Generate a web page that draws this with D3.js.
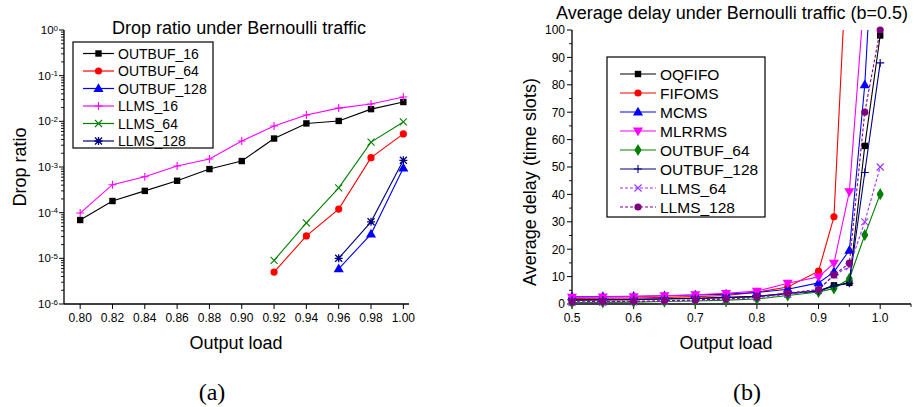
<!DOCTYPE html>
<html>
<head>
<meta charset="utf-8">
<script src="https://cdn.jsdelivr.net/npm/d3@7/dist/d3.min.js"></script>
<style>
  html, body { margin: 0; padding: 0; background: #fff; }
  svg { display: block; font-family: "Liberation Sans", Arial, sans-serif; }
</style>
</head>
<body>
<svg id="fig" width="914" height="407"></svg>
<script>
// ---- (a) Drop ratio under Bernoulli traffic ----
const dropLoads = [0.80, 0.82, 0.84, 0.86, 0.88, 0.90, 0.92, 0.94, 0.96, 0.98, 1.00];
const dropOUTBUF16  = [6.9e-5, 1.8e-4, 3.0e-4, 5.0e-4, 9.0e-4, 1.35e-3, 4.2e-3, 9.0e-3, 1.02e-2, 1.85e-2, 2.65e-2];
const dropOUTBUF64  = [null, null, null, null, null, null, 5.0e-6, 3.1e-5, 1.2e-4, 1.6e-3, 5.3e-3];
const dropOUTBUF128 = [null, null, null, null, null, null, null, null, 5.9e-6, 3.4e-5, 9.5e-4];
const dropLLMS16    = [9.8e-5, 4.1e-4, 6.1e-4, 1.05e-3, 1.5e-3, 3.7e-3, 7.9e-3, 1.38e-2, 1.95e-2, 2.4e-2, 3.4e-2];
const dropLLMS64    = [null, null, null, null, null, null, 9.0e-6, 6.0e-5, 3.5e-4, 3.5e-3, 9.7e-3];
const dropLLMS128   = [null, null, null, null, null, null, null, null, 1.0e-5, 6.3e-5, 1.4e-3];
const dropXTicks = [0.80, 0.82, 0.84, 0.86, 0.88, 0.90, 0.92, 0.94, 0.96, 0.98, 1.00];
const dropYExponents = [0, -1, -2, -3, -4, -5, -6];

// ---- (b) Average delay under Bernoulli traffic (b=0.5) ----
const delayLoads = [0.5, 0.55, 0.6, 0.65, 0.7, 0.75, 0.8, 0.85, 0.9, 0.925, 0.95, 0.975, 1.0];
const delayOQFIFO    = [1.5, 1.6, 1.7, 1.9, 2.1, 2.4, 2.8, 3.8, 4.8, 6.8, 7.7, 57.7, 98];
const delayFIFOMS    = [2.0, 2.1, 2.2, 2.4, 2.7, 3.1, 4.3, 6.2, 12, 31.8, 146, null, null];
const delayMCMS      = [2.6, 2.7, 2.8, 3.0, 3.3, 3.6, 4.2, 5.4, 7.7, 11.7, 19.6, 80, 180];
const delayMLRRMS    = [2.5, 2.6, 2.7, 3.0, 3.4, 3.9, 4.7, 7.6, 9.9, 14.9, 41, 115, null];
const delayOUTBUF64  = [0.5, 0.6, 0.7, 0.9, 1.1, 1.4, 1.8, 3.1, 4.4, 5.7, 9.2, 25.2, 40.1];
const delayOUTBUF128 = [1.4, 1.5, 1.6, 1.8, 2.0, 2.3, 2.7, 3.9, 4.7, 6.6, 7.6, 48, 88];
const delayLLMS64    = [0.5, 0.6, 0.8, 1.0, 1.3, 1.7, 2.3, 3.5, 5.2, 10.5, 13.6, 30, 50];
const delayLLMS128   = [0.8, 0.9, 1.0, 1.2, 1.5, 1.9, 2.6, 4.0, 5.3, 10.6, 14.9, 70, 100];
const delayXTicks = [0.5, 0.6, 0.7, 0.8, 0.9, 1.0];
const delayYTicks = [0, 10, 20, 30, 40, 50, 60, 70, 80, 90, 100];

const svg = d3.select("#fig");

// marker drawing helper
function drawMarker(g, kind, x, y, color) {
  const s = 3.2;
  if (kind === "square") {
    g.append("rect").attr("x", x - s).attr("y", y - s).attr("width", 2 * s).attr("height", 2 * s).attr("fill", color);
  } else if (kind === "circle") {
    g.append("circle").attr("cx", x).attr("cy", y).attr("r", 3.6).attr("fill", color);
  } else if (kind === "triUp") {
    g.append("path").attr("d", d3.symbol(d3.symbolTriangle, 44)()).attr("transform", `translate(${x},${y + 0.5})`).attr("fill", color);
  } else if (kind === "triDown") {
    g.append("path").attr("d", d3.symbol(d3.symbolTriangle, 44)()).attr("transform", `translate(${x},${y - 0.5}) rotate(180)`).attr("fill", color);
  } else if (kind === "diamond") {
    g.append("path").attr("d", d3.symbol(d3.symbolDiamond, 42)()).attr("transform", `translate(${x},${y})`).attr("fill", color);
    g.append("circle").attr("cx", x).attr("cy", y).attr("r", 2.8).attr("fill", color);
  } else if (kind === "plus") {
    g.append("path").attr("d", `M${x - 4},${y}H${x + 4}M${x},${y - 4}V${y + 4}`).attr("stroke", color).attr("stroke-width", 1.1);
  } else if (kind === "cross") {
    g.append("path").attr("d", `M${x - 3.5},${y - 3.5}L${x + 3.5},${y + 3.5}M${x - 3.5},${y + 3.5}L${x + 3.5},${y - 3.5}`).attr("stroke", color).attr("stroke-width", 1.1);
  } else if (kind === "star") {
    g.append("path").attr("d", `M${x - 3.5},${y - 3.5}L${x + 3.5},${y + 3.5}M${x - 3.5},${y + 3.5}L${x + 3.5},${y - 3.5}M${x},${y - 4}V${y + 4}M${x - 4},${y}H${x + 4}`).attr("stroke", color).attr("stroke-width", 1.3);
  }
}

function drawSeries(g, xs, ys, xScale, yScale, s, clipId) {
  const pts = xs.map((x, i) => [x, ys[i]]).filter(p => p[1] != null);
  const line = d3.line().x(p => xScale(p[0])).y(p => yScale(p[1]));
  const path = g.append("path").datum(pts).attr("d", line).attr("fill", "none")
    .attr("stroke", s.color).attr("stroke-width", 1.1);
  if (s.dash) path.attr("stroke-dasharray", s.dash);
  if (clipId) path.attr("clip-path", `url(#${clipId})`);
  const top = yScale.domain()[1];
  pts.forEach(p => {
    if (p[1] <= top) drawMarker(g, s.marker, xScale(p[0]), yScale(p[1]), s.color);
  });
}

function drawLegend(g, series, box, rowY0, rowStep, lineX0, lineX1, textX, fontSize) {
  g.append("rect").attr("x", box.x).attr("y", box.y).attr("width", box.w).attr("height", box.h)
    .attr("fill", "#fff").attr("stroke", "#000").attr("stroke-width", 1.2);
  series.forEach((s, i) => {
    const y = rowY0 + i * rowStep;
    const l = g.append("line").attr("x1", lineX0).attr("x2", lineX1).attr("y1", y).attr("y2", y)
      .attr("stroke", s.color).attr("stroke-width", 1.2);
    if (s.dash) l.attr("stroke-dasharray", s.dash);
    drawMarker(g, s.marker, (lineX0 + lineX1) / 2, y, s.color);
    g.append("text").attr("x", textX).attr("y", y).attr("dy", "0.36em")
      .attr("font-size", fontSize).attr("fill", "#000").text(s.name);
  });
}

// ================= Panel (a) =================
{
  const g = svg.append("g");
  const x = d3.scaleLinear().domain([0.79, 1.0035]).range([64, 409]);
  const y = d3.scaleLog().domain([1e-6, 1]).range([304, 30]);

  // axes
  g.append("line").attr("x1", 64).attr("x2", 64).attr("y1", 30).attr("y2", 304).attr("stroke", "#000").attr("stroke-width", 1.3);
  g.append("line").attr("x1", 64).attr("x2", 409).attr("y1", 304).attr("y2", 304).attr("stroke", "#000").attr("stroke-width", 1.3);

  // y ticks: decades and minor log ticks
  dropYExponents.forEach(e => {
    const v = Math.pow(10, e);
    g.append("line").attr("x1", 59).attr("x2", 64).attr("y1", y(v)).attr("y2", y(v)).attr("stroke", "#000");
    const t = g.append("text").attr("x", 58).attr("y", y(v)).attr("dy", "0.36em").attr("text-anchor", "end").attr("font-size", 11.5);
    t.append("tspan").text("10");
    t.append("tspan").attr("dy", "-0.45em").attr("font-size", 8).text(String(e).replace("-", "-"));
    if (e > -6) {
      for (let m = 2; m <= 9; m++) {
        const mv = m * Math.pow(10, e - 1);
        g.append("line").attr("x1", 61).attr("x2", 64).attr("y1", y(mv)).attr("y2", y(mv)).attr("stroke", "#000").attr("stroke-width", 0.9);
      }
    }
  });

  // x ticks
  dropXTicks.forEach(v => {
    g.append("line").attr("x1", x(v)).attr("x2", x(v)).attr("y1", 304).attr("y2", 309).attr("stroke", "#000");
    g.append("text").attr("x", x(v)).attr("y", 322).attr("text-anchor", "middle").attr("font-size", 12).text(v.toFixed(2));
  });

  g.append("text").attr("x", 236).attr("y", 349).attr("text-anchor", "middle").attr("font-size", 18).text("Output load");
  g.append("text").attr("transform", "translate(26,167) rotate(-90)").attr("text-anchor", "middle").attr("font-size", 18).text("Drop ratio");
  g.append("text").attr("x", 239).attr("y", 34).attr("text-anchor", "middle").attr("font-size", 18).text("Drop ratio under Bernoulli traffic");

  const seriesA = [
    { name: "OUTBUF_16",  vals: dropOUTBUF16,  color: "#000000", marker: "square" },
    { name: "OUTBUF_64",  vals: dropOUTBUF64,  color: "#ff0000", marker: "circle" },
    { name: "OUTBUF_128", vals: dropOUTBUF128, color: "#0000ff", marker: "triUp" },
    { name: "LLMS_16",    vals: dropLLMS16,    color: "#ff00ff", marker: "plus" },
    { name: "LLMS_64",    vals: dropLLMS64,    color: "#008000", marker: "cross" },
    { name: "LLMS_128",   vals: dropLLMS128,   color: "#000080", marker: "star" }
  ];
  seriesA.forEach(s => drawSeries(g, dropLoads, s.vals, x, y, s, null));

  drawLegend(g, seriesA, { x: 73, y: 42, w: 140, h: 106 }, 53.5, 17.5, 83, 114, 118, 14);
}

// ================= Panel (b) =================
{
  const g = svg.append("g");
  const x = d3.scaleLinear().domain([0.5, 1.05]).range([572, 911]);
  const y = d3.scaleLinear().domain([0, 100]).range([304, 30]);

  g.append("defs").append("clipPath").attr("id", "clipB")
    .append("rect").attr("x", 572).attr("y", 30).attr("width", 345).attr("height", 280);

  g.append("line").attr("x1", 572).attr("x2", 572).attr("y1", 30).attr("y2", 304).attr("stroke", "#000").attr("stroke-width", 1.3);
  g.append("line").attr("x1", 572).attr("x2", 911).attr("y1", 304).attr("y2", 304).attr("stroke", "#000").attr("stroke-width", 1.3);

  delayYTicks.forEach(v => {
    g.append("line").attr("x1", 567).attr("x2", 572).attr("y1", y(v)).attr("y2", y(v)).attr("stroke", "#000");
    g.append("text").attr("x", 565).attr("y", y(v)).attr("dy", "0.36em").attr("text-anchor", "end").attr("font-size", 12).text(v);
    if (v < 100) {
      g.append("line").attr("x1", 569).attr("x2", 572).attr("y1", y(v + 5)).attr("y2", y(v + 5)).attr("stroke", "#000").attr("stroke-width", 0.9);
    }
  });
  delayXTicks.forEach(v => {
    g.append("line").attr("x1", x(v)).attr("x2", x(v)).attr("y1", 304).attr("y2", 309).attr("stroke", "#000");
    g.append("text").attr("x", x(v)).attr("y", 322).attr("text-anchor", "middle").attr("font-size", 12).text(v.toFixed(1));
    g.append("line").attr("x1", x(v + 0.05)).attr("x2", x(v + 0.05)).attr("y1", 304).attr("y2", 307).attr("stroke", "#000").attr("stroke-width", 0.9);
  });

  g.append("text").attr("x", 726).attr("y", 349).attr("text-anchor", "middle").attr("font-size", 18).text("Output load");
  g.append("text").attr("transform", "translate(536,182) rotate(-90)").attr("text-anchor", "middle").attr("font-size", 18).text("Average delay (time slots)");
  g.append("text").attr("x", 732).attr("y", 19).attr("text-anchor", "middle").attr("font-size", 18).text("Average delay under Bernoulli traffic (b=0.5)");

  const seriesB = [
    { name: "OQFIFO",     vals: delayOQFIFO,    color: "#000000", marker: "square" },
    { name: "FIFOMS",     vals: delayFIFOMS,    color: "#ff0000", marker: "circle" },
    { name: "MCMS",       vals: delayMCMS,      color: "#0000ff", marker: "triUp" },
    { name: "MLRRMS",     vals: delayMLRRMS,    color: "#ff00ff", marker: "triDown" },
    { name: "OUTBUF_64",  vals: delayOUTBUF64,  color: "#008000", marker: "diamond" },
    { name: "OUTBUF_128", vals: delayOUTBUF128, color: "#000080", marker: "plus" },
    { name: "LLMS_64",    vals: delayLLMS64,    color: "#9933ff", marker: "cross", dash: "3,2" },
    { name: "LLMS_128",   vals: delayLLMS128,   color: "#800080", marker: "circle", dash: "3,2" }
  ];
  seriesB.forEach(s => drawSeries(g, delayLoads, s.vals, x, y, s, "clipB"));

  drawLegend(g, seriesB, { x: 607, y: 57, w: 158, h: 160 }, 74, 19, 620, 656, 660, 15.5);
}

// panel captions
svg.append("text").attr("x", 212).attr("y", 400).attr("text-anchor", "middle")
  .attr("font-family", "'Liberation Serif', 'Times New Roman', serif").attr("font-size", 24).text("(a)");
svg.append("text").attr("x", 747).attr("y", 400).attr("text-anchor", "middle")
  .attr("font-family", "'Liberation Serif', 'Times New Roman', serif").attr("font-size", 24).text("(b)");
</script>
</body>
</html>
